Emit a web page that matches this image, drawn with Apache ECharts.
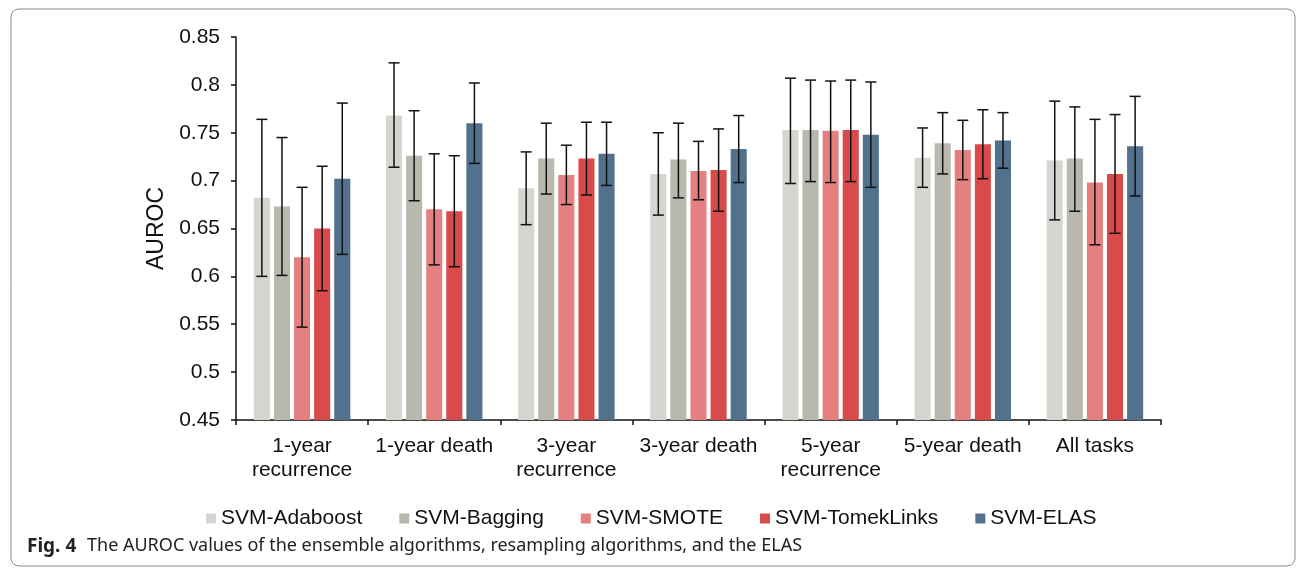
<!DOCTYPE html>
<html>
<head>
<meta charset="utf-8">
<script src="https://cdn.jsdelivr.net/npm/echarts@6/dist/echarts.min.js"></script>
<style>
html,body{margin:0;padding:0;background:#fff;}
#chart{width:1298px;height:568px;}
</style>
</head>
<body>
<div id="chart"></div>
<script>
const categories = ['1-year\nrecurrence', '1-year death', '3-year\nrecurrence', '3-year death', '5-year\nrecurrence', '5-year death', 'All tasks'];
const seriesNames = ['SVM-Adaboost', 'SVM-Bagging', 'SVM-SMOTE', 'SVM-TomekLinks', 'SVM-ELAS'];
const yTicks = [0.45, 0.85, 0.05];

const adaboost = [0.682, 0.768, 0.692, 0.707, 0.753, 0.724, 0.721];
const bagging  = [0.673, 0.726, 0.723, 0.722, 0.753, 0.739, 0.723];
const smote    = [0.620, 0.670, 0.706, 0.710, 0.752, 0.732, 0.698];
const tomek    = [0.650, 0.668, 0.723, 0.711, 0.753, 0.738, 0.707];
const elas     = [0.702, 0.760, 0.728, 0.733, 0.748, 0.742, 0.736];

const adaboostLow  = [0.600, 0.714, 0.654, 0.664, 0.697, 0.693, 0.659];
const adaboostHigh = [0.764, 0.823, 0.730, 0.750, 0.807, 0.755, 0.783];
const baggingLow   = [0.601, 0.679, 0.686, 0.682, 0.699, 0.707, 0.668];
const baggingHigh  = [0.745, 0.773, 0.760, 0.760, 0.805, 0.771, 0.777];
const smoteLow     = [0.547, 0.612, 0.675, 0.680, 0.698, 0.701, 0.633];
const smoteHigh    = [0.693, 0.728, 0.737, 0.741, 0.804, 0.763, 0.764];
const tomekLow     = [0.585, 0.610, 0.685, 0.668, 0.699, 0.702, 0.645];
const tomekHigh    = [0.715, 0.726, 0.761, 0.754, 0.805, 0.774, 0.769];
const elasLow      = [0.623, 0.718, 0.695, 0.698, 0.693, 0.713, 0.684];
const elasHigh     = [0.781, 0.802, 0.761, 0.768, 0.803, 0.771, 0.788];

const colors = ['#d6d6d0', '#b8b8ae', '#e58080', '#d94b4b', '#51718d'];
const means = [adaboost, bagging, smote, tomek, elas];
const lows = [adaboostLow, baggingLow, smoteLow, tomekLow, elasLow];
const highs = [adaboostHigh, baggingHigh, smoteHigh, tomekHigh, elasHigh];

const CAT_GAP = 0.27, BAR_GAP = 0.25, N = 5;
const FONT = 'Liberation Sans, Arial, sans-serif';

function errorRenderer(sIdx) {
  return function (params, api) {
    const cat = api.value(0);
    const lo = api.coord([cat, api.value(1)]);
    const hi = api.coord([cat, api.value(2)]);
    const catW = api.size([1, 0])[0];
    const bw = catW * (1 - CAT_GAP) / (N + (N - 1) * BAR_GAP);
    const pitch = bw * (1 + BAR_GAP);
    const x = lo[0] + (sIdx - (N - 1) / 2) * pitch;
    const cap = 5.5;
    const st = { stroke: '#111', lineWidth: 1.5 };
    return {
      type: 'group',
      children: [
        { type: 'line', shape: { x1: x, y1: lo[1], x2: x, y2: hi[1] }, style: st },
        { type: 'line', shape: { x1: x - cap, y1: lo[1], x2: x + cap, y2: lo[1] }, style: st },
        { type: 'line', shape: { x1: x - cap, y1: hi[1], x2: x + cap, y2: hi[1] }, style: st }
      ]
    };
  };
}

const series = [];
seriesNames.forEach((name, i) => {
  series.push({
    name: name,
    type: 'bar',
    data: means[i],
    barCategoryGap: (CAT_GAP * 100) + '%',
    barGap: (BAR_GAP * 100) + '%',
    itemStyle: { color: colors[i] },
    z: 2
  });
});
seriesNames.forEach((name, i) => {
  series.push({
    name: name + ' error',
    type: 'custom',
    renderItem: errorRenderer(i),
    data: categories.map((c, k) => [k, lows[i][k], highs[i][k]]),
    z: 5,
    silent: true
  });
});

const chart = echarts.init(document.getElementById('chart'), null, { renderer: 'canvas' });
chart.setOption({
  animation: false,
  backgroundColor: '#fff',
  textStyle: { fontFamily: FONT },
  grid: { left: 236, right: 137, top: 37, bottom: 148, containLabel: false },
  legend: {
    data: seriesNames,
    left: 201,
    top: 503,
    itemWidth: 10,
    itemHeight: 10,
    itemGap: 37,
    icon: 'rect',
    textStyle: { fontSize: 21, color: '#111', fontFamily: FONT }
  },
  xAxis: {
    type: 'category',
    data: categories,
    axisLine: { lineStyle: { color: '#111', width: 1.5 } },
    axisTick: { show: true, length: 5, lineStyle: { color: '#111', width: 1.5 } },
    axisLabel: { fontSize: 21, color: '#111', lineHeight: 24, margin: 14, interval: 0, fontFamily: FONT }
  },
  yAxis: {
    type: 'value',
    min: yTicks[0],
    max: yTicks[1],
    interval: yTicks[2],
    name: 'AUROC',
    nameLocation: 'middle',
    nameGap: 56,
    nameTextStyle: { fontSize: 23, color: '#111', fontFamily: FONT },
    axisLine: { show: true, lineStyle: { color: '#111', width: 1.5 } },
    axisTick: { show: true, length: 5, lineStyle: { color: '#111', width: 1.5 } },
    splitLine: { show: false },
    axisLabel: {
      fontSize: 21, color: '#111', margin: 16, fontFamily: FONT,
      formatter: v => String(+v.toFixed(2))
    }
  },
  series: series,
  graphic: [
    {
      type: 'rect',
      shape: { x: 11, y: 9, width: 1284, height: 557, r: 8 },
      style: { fill: 'none', stroke: '#888', lineWidth: 1 },
      silent: true,
      z: -10
    },
    {
      type: 'text',
      left: 27, top: 537,
      style: { text: 'Fig. 4', font: 'bold 19px "Noto Sans", sans-serif', fill: '#222' }
    },
    {
      type: 'text',
      left: 87, top: 537,
      style: { text: 'The AUROC values of the ensemble algorithms, resampling algorithms, and the ELAS', font: '18px "Noto Sans", sans-serif', fill: '#222' }
    }
  ]
});
</script>
</body>
</html>
